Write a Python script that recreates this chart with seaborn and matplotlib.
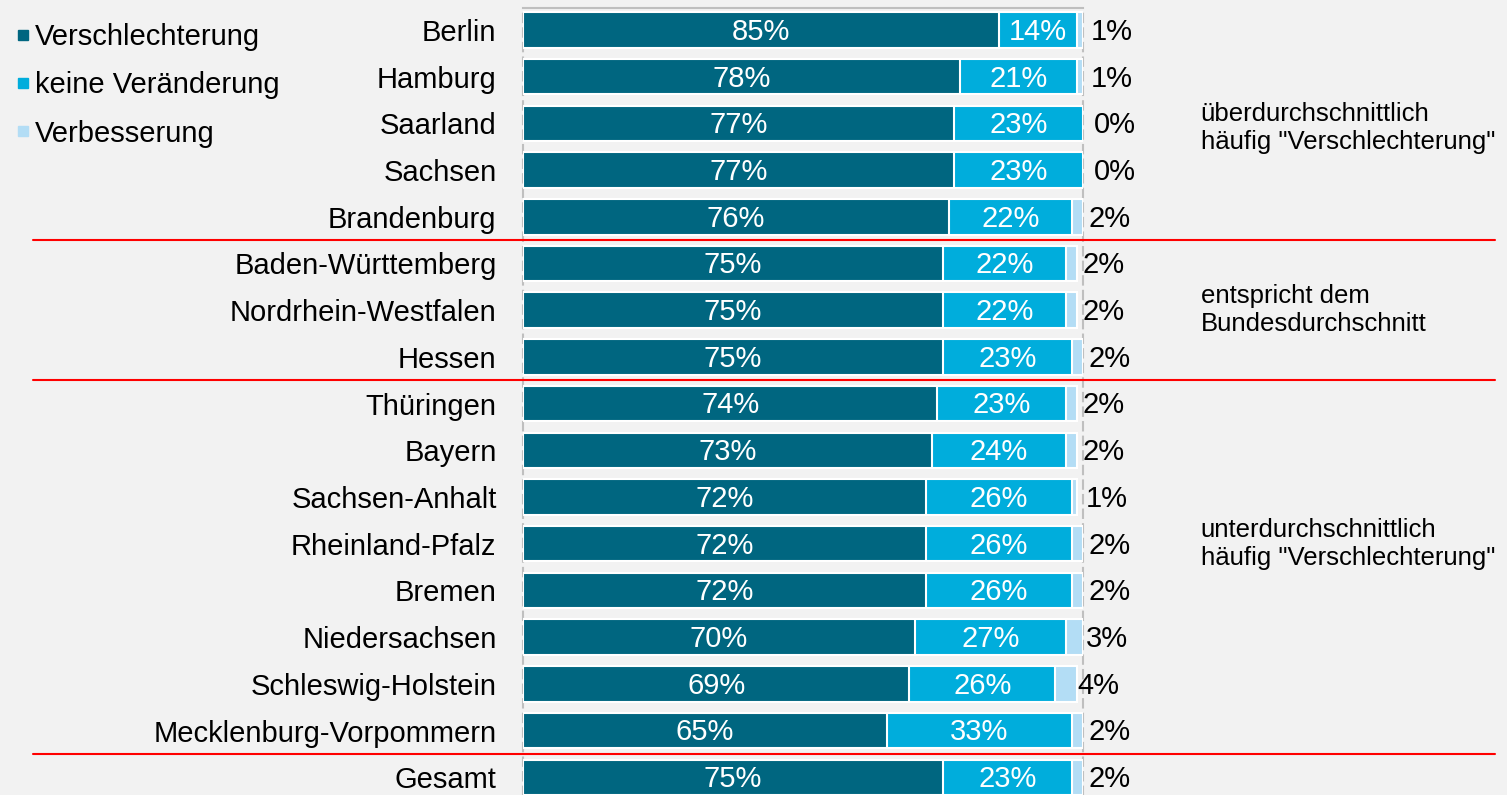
import matplotlib
matplotlib.use("Agg")
import matplotlib.pyplot as plt
import matplotlib.transforms as mtransforms
from matplotlib.lines import Line2D
import seaborn as sns
import pandas as pd
import numpy as np

# Data
laender = ["Berlin", "Hamburg", "Saarland", "Sachsen", "Brandenburg",
           "Baden-Württemberg", "Nordrhein-Westfalen", "Hessen",
           "Thüringen", "Bayern", "Sachsen-Anhalt", "Rheinland-Pfalz",
           "Bremen", "Niedersachsen", "Schleswig-Holstein",
           "Mecklenburg-Vorpommern", "Gesamt"]
verschlechterung = [85, 78, 77, 77, 76, 75, 75, 75, 74, 73, 72, 72, 72, 70, 69, 65, 75]
keine_veraenderung = [14, 21, 23, 23, 22, 22, 22, 23, 23, 24, 26, 26, 26, 27, 26, 33, 23]
verbesserung = [1, 1, 0, 0, 2, 2, 2, 2, 2, 2, 1, 2, 2, 3, 4, 2, 2]
serien = ["Verschlechterung", "keine Veränderung", "Verbesserung"]
farben = ["#006680", "#00ADDC", "#B3DDF5"]
gruppen = ['überdurchschnittlich\nhäufig "Verschlechterung"',
           "entspricht dem\nBundesdurchschnitt",
           'unterdurchschnittlich\nhäufig "Verschlechterung"']
gruppen_zeile = [2.1, 6.0, 11.0]
trennlinien_nach = [4, 7, 15]

df = pd.DataFrame({"Land": laender, "v1": verschlechterung,
                   "v2": keine_veraenderung, "v3": verbesserung})
df["c1"] = df["v1"]
df["c2"] = df["v1"] + df["v2"]
df["c3"] = df["v1"] + df["v2"] + df["v3"]

sns.set_theme(style="white")
plt.rcParams["font.family"] = ["Liberation Sans", "DejaVu Sans"]
bg = "#F2F2F2"
fs = 21

fig = plt.figure(figsize=(15.07, 7.95), dpi=100, facecolor=bg)
W, H = 1507, 795
ax = fig.add_axes([523 / W, 0, 560 / W, 787 / H])
ax.set_facecolor(bg)

# stacked bars: draw cumulative totals from widest to narrowest
for col, farbe in zip(["c3", "c2", "c1"], farben[::-1]):
    sns.barplot(data=df, x=col, y="Land", orient="h", color=farbe,
                width=0.76, edgecolor="white", linewidth=1.5,
                saturation=1, ax=ax)

ax.set_xlim(0, 100)
ax.set_ylim(16.38, -0.47)
ax.set_xlabel("")
ax.set_ylabel("")
ax.set_xticks([])
ax.tick_params(axis="y", length=0, pad=19, labelsize=fs, labelcolor="black")

ax.spines["bottom"].set_visible(False)
ax.spines["top"].set_color("#BFBFBF")
ax.spines["top"].set_linewidth(1.5)
for s in ["left", "right"]:
    ax.spines[s].set_color("#BFBFBF")
    ax.spines[s].set_linewidth(1.5)
    ax.spines[s].set_linestyle((0, (4, 3)))
    ax.spines[s].set_zorder(0.5)

# value labels
for i, r in df.iterrows():
    ax.text(r["v1"] / 2, i + 0.04, f'{r["v1"]}%', ha="center", va="center",
            color="white", fontsize=fs)
    ax.text(r["v1"] + r["v2"] / 2, i + 0.04, f'{r["v2"]}%', ha="center",
            va="center", color="white", fontsize=fs)
    ax.text(r["v1"] + r["v2"] + r["v3"] / 2 + 5.7, i + 0.04, f'{r["v3"]}%',
            ha="center", va="center", color="black", fontsize=fs)

# red group separators
blend = mtransforms.blended_transform_factory(ax.transAxes, ax.transData)
for k in trennlinien_nach:
    ax.plot([-0.875, 1.736], [k + 0.5, k + 0.5], transform=blend,
            color="#FF0000", lw=1.5, clip_on=False, zorder=5)

# group annotations
for txt, zeile in zip(gruppen, gruppen_zeile):
    ax.text(1.21, zeile, txt, transform=blend, ha="left", va="center",
            fontsize=18.5, color="black", linespacing=1.2)

# legend
handles = [Line2D([0], [0], marker="s", linestyle="", markersize=7.5,
                  markerfacecolor=c, markeredgecolor=c) for c in farben]
fig.legend(handles, serien, loc="upper left", bbox_to_anchor=(-0.003, 0.997),
           frameon=False, fontsize=fs, handlelength=0.5, handletextpad=0.15,
           labelspacing=0.7, borderaxespad=0.3, labelcolor="black")

fig.savefig("out.png", dpi=100, facecolor=bg)
